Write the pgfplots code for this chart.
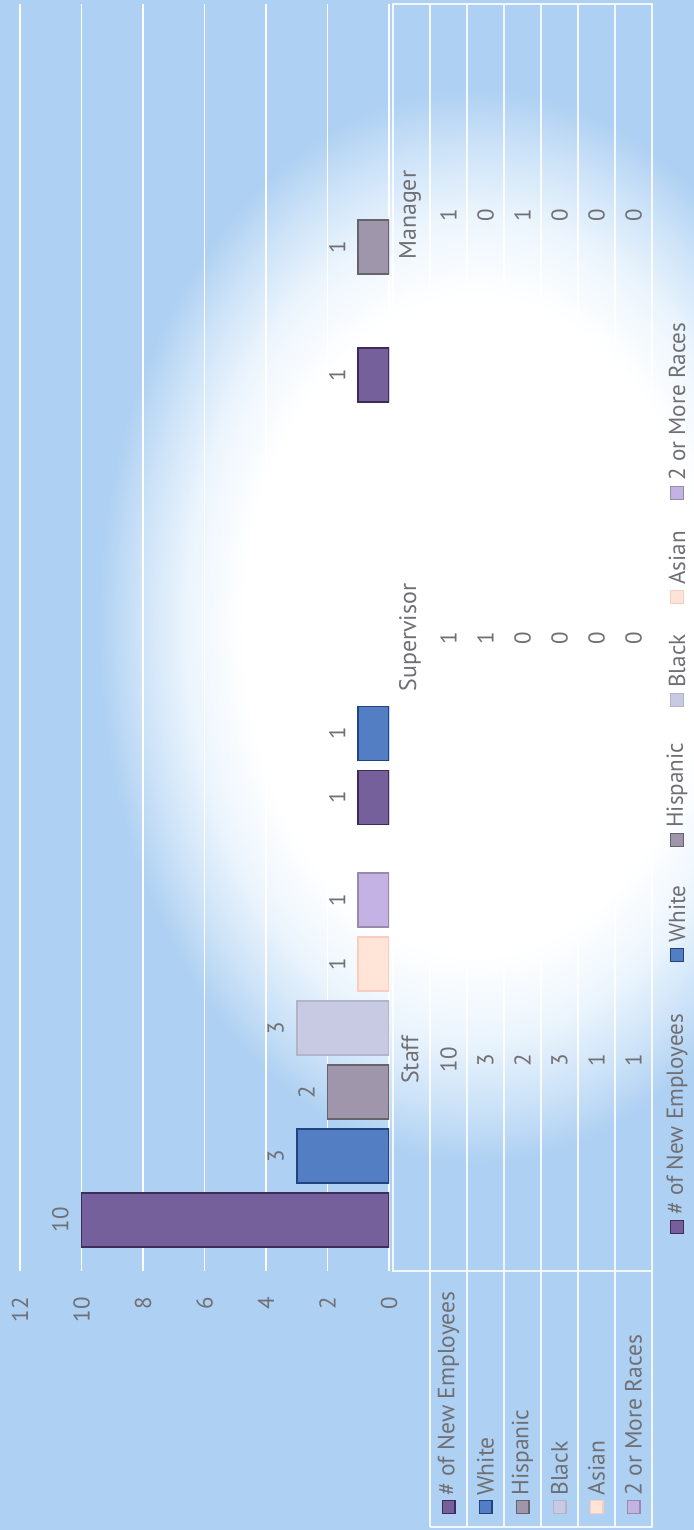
\documentclass[border=0pt]{standalone}
\usepackage{fontspec}
\setmainfont{PT Sans}
\usepackage{pgfplots}
\pgfplotsset{compat=1.18}
\usepackage{pgfplotstable}

\definecolor{bgblue}{RGB}{174,208,242}
\definecolor{txt}{RGB}{112,112,116}
\definecolor{cEmp}{RGB}{118,96,156}
\definecolor{cEmpD}{RGB}{62,44,88}
\definecolor{cWhite}{RGB}{84,126,196}
\definecolor{cWhiteD}{RGB}{32,68,130}
\definecolor{cHisp}{RGB}{160,150,172}
\definecolor{cHispD}{RGB}{100,100,108}
\definecolor{cBlack}{RGB}{200,202,228}
\definecolor{cBlackD}{RGB}{178,180,200}
\definecolor{cAsian}{RGB}{255,228,215}
\definecolor{cAsianD}{RGB}{248,205,190}
\definecolor{cMulti}{RGB}{196,178,228}
\definecolor{cMultiD}{RGB}{150,140,170}
\definecolor{glowA}{RGB}{236,245,253}
\definecolor{glowB}{RGB}{205,227,248}

\pgfdeclareradialshading{glow}{\pgfpoint{0bp}{0bp}}{color(0bp)=(white); color(13.5bp)=(white); color(16.8bp)=(glowA); color(19.6bp)=(glowB); color(22bp)=(bgblue); color(50bp)=(bgblue)}

\pgfplotstableread{
cat emp white hisp black asian multi
0 10 3 2 3 1 1
1 1 1 0 0 0 0
2 1 0 1 0 0 0
}\datatable

\begin{document}
\begin{tikzpicture}
\path[use as bounding box] (0,0) rectangle (347bp,765bp);
\fill[bgblue] (0,0) rectangle (347bp,765bp);
\begin{scope}
\clip (0,0) rectangle (347bp,765bp);
\shade[shading=glow] (238bp,452bp) ellipse [x radius=215bp, y radius=305bp];
\end{scope}

\begin{axis}[
  at={(102.25bp,446.25bp)}, anchor=center,
  width=184.5bp, height=633.5bp, scale only axis,
  xbar, x dir=reverse,
  xmin=0, xmax=12, ymin=-0.5, ymax=2.5,
  xtick={0,2,...,12},
  ytick={0,1,2}, yticklabels={Staff,Supervisor,Manager},
  yticklabel pos=right,
  major tick length=0pt,
  axis line style={draw=none},
  xmajorgrids, grid style={white, line width=0.7bp},
  bar width=27bp,
  point meta=x,
  nodes near coords,
  every node near coord/.append style={xshift=-6bp, rotate=90, anchor=south, inner sep=0pt, font=\fontsize{11.5}{13}\selectfont, text=txt},
  xticklabel style={yshift=-13bp, rotate=90, anchor=east, inner sep=0pt, font=\fontsize{11.5}{13}\selectfont, text=txt},
  yticklabel style={anchor=center, xshift=10.5bp, rotate=90, inner sep=0pt, font=\fontsize{12}{14}\selectfont, text=txt},
  /pgf/number format/assume math mode=true,
  restrict x to domain=0.5:20,
]
\addplot[xbar, bar shift=-80bp, fill=cEmp, draw=cEmpD, line width=0.8bp] table[x=emp, y=cat] {\datatable};
\addplot[xbar, bar shift=-48bp, fill=cWhite, draw=cWhiteD, line width=0.8bp] table[x=white, y=cat] {\datatable};
\addplot[xbar, bar shift=-16bp, fill=cHisp, draw=cHispD, line width=0.8bp] table[x=hisp, y=cat] {\datatable};
\addplot[xbar, bar shift=16bp, fill=cBlack, draw=cBlackD, line width=0.8bp] table[x=black, y=cat] {\datatable};
\addplot[xbar, bar shift=48bp, fill=cAsian, draw=cAsianD, line width=0.8bp] table[x=asian, y=cat] {\datatable};
\addplot[xbar, bar shift=80bp, fill=cMulti, draw=cMultiD, line width=0.8bp] table[x=multi, y=cat] {\datatable};
\end{axis}

% data table grid
\begin{scope}[white, line width=0.6bp, opacity=0.85]
\draw (196.5bp,129.5bp) rectangle (326bp,763bp);
\draw (196.5bp,340.5bp) -- (326bp,340.5bp);
\draw (196.5bp,551.5bp) -- (326bp,551.5bp);
\foreach \x in {215,233.5,252,270.5,289,307.5}{\draw (\x bp,1.5bp) -- (\x bp,763bp);}
\draw (215bp,1.5bp) -- (326bp,1.5bp) -- (326bp,129.5bp);
\end{scope}

% data table values
\begin{scope}[every node/.style={rotate=90, text=txt, font=\fontsize{11.5}{13}\selectfont, inner sep=0pt}]
% Staff
\node at (224.25bp,235bp) {10};
\node at (242.75bp,235bp) {3};
\node at (261.25bp,235bp) {2};
\node at (279.75bp,235bp) {3};
\node at (298.25bp,235bp) {1};
\node at (316.75bp,235bp) {1};
% Supervisor
\node at (224.25bp,446bp) {1};
\node at (242.75bp,446bp) {1};
\node at (261.25bp,446bp) {0};
\node at (279.75bp,446bp) {0};
\node at (298.25bp,446bp) {0};
\node at (316.75bp,446bp) {0};
% Manager
\node at (224.25bp,657.5bp) {1};
\node at (242.75bp,657.5bp) {0};
\node at (261.25bp,657.5bp) {1};
\node at (279.75bp,657.5bp) {0};
\node at (298.25bp,657.5bp) {0};
\node at (316.75bp,657.5bp) {0};
\end{scope}

% row labels with keys
\begin{scope}[every node/.style={rotate=90, anchor=west, text=txt, font=\fontsize{11.8}{14}\selectfont, inner sep=0pt}]
\draw[fill=cEmp, draw=cEmpD, line width=0.6bp] (221.05bp,8.3bp) rectangle (227.45bp,14.7bp);
\node at (224.25bp,17bp) {\# of New Employees};
\draw[fill=cWhite, draw=cWhiteD, line width=0.6bp] (239.55bp,8.3bp) rectangle (245.95bp,14.7bp);
\node at (242.75bp,17bp) {White};
\draw[fill=cHisp, draw=cHispD, line width=0.6bp] (258.05bp,8.3bp) rectangle (264.45bp,14.7bp);
\node at (261.25bp,17bp) {Hispanic};
\draw[fill=cBlack, draw=cBlackD, line width=0.6bp] (276.55bp,8.3bp) rectangle (282.95bp,14.7bp);
\node at (279.75bp,17bp) {Black};
\draw[fill=cAsian, draw=cAsianD, line width=0.6bp] (295.05bp,8.3bp) rectangle (301.45bp,14.7bp);
\node at (298.25bp,17bp) {Asian};
\draw[fill=cMulti, draw=cMultiD, line width=0.6bp] (313.55bp,8.3bp) rectangle (319.95bp,14.7bp);
\node at (316.75bp,17bp) {2 or More Races};
\end{scope}

% legend
\begin{scope}[every node/.style={rotate=90, anchor=west, text=txt, font=\fontsize{11.6}{14}\selectfont, inner sep=0pt}]
\draw[fill=cEmp, draw=cEmpD, line width=0.6bp] (335.3bp,148.3bp) rectangle (341.7bp,154.7bp);
\node at (338.5bp,157.5bp) {\# of New Employees};
\draw[fill=cWhite, draw=cWhiteD, line width=0.6bp] (335.3bp,284.3bp) rectangle (341.7bp,290.7bp);
\node at (338.5bp,293.5bp) {White};
\draw[fill=cHisp, draw=cHispD, line width=0.6bp] (335.3bp,341.8bp) rectangle (341.7bp,348.2bp);
\node at (338.5bp,351bp) {Hispanic};
\draw[fill=cBlack, draw=cBlackD, line width=0.6bp] (335.3bp,411.8bp) rectangle (341.7bp,418.2bp);
\node at (338.5bp,421bp) {Black};
\draw[fill=cAsian, draw=cAsianD, line width=0.6bp] (335.3bp,463.3bp) rectangle (341.7bp,469.7bp);
\node at (338.5bp,472.5bp) {Asian};
\draw[fill=cMulti, draw=cMultiD, line width=0.6bp] (335.3bp,515.3bp) rectangle (341.7bp,521.7bp);
\node at (338.5bp,524.5bp) {2 or More Races};
\end{scope}
\end{tikzpicture}
\end{document}
